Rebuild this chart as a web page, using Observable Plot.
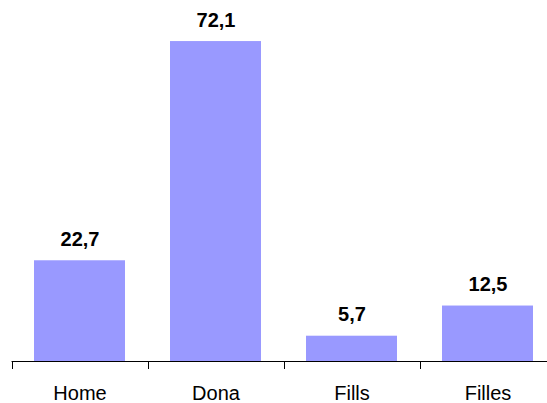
<!DOCTYPE html>
<html>
<head>
<meta charset="utf-8">
<script src="https://cdn.jsdelivr.net/npm/d3@7"></script>
<script src="https://cdn.jsdelivr.net/npm/@observablehq/plot@0.6"></script>
<style>
  html, body { margin: 0; padding: 0; background: #fff; }
  svg { display: block; }
</style>
</head>
<body>
<div id="chart"></div>
<script>
const categories = ["Home", "Dona", "Fills", "Filles"];
const values = [22.7, 72.1, 5.7, 12.5];
const valueLabels = ["22,7", "72,1", "5,7", "12,5"];

const data = categories.map((c, i) => ({cat: c, value: values[i], label: valueLabels[i]}));

const W = 547, H = 403;
const paddingInner = 0.33;

// custom axis: baseline line + category boundary ticks, positioned from the x/y scales
function axisBaseline(index, scales, values, dimensions) {
  const g = d3.create("svg:g");
  const y0 = Math.round(scales.y(0));
  const step = scales.x(categories[1]) - scales.x(categories[0]);
  const half = step * paddingInner / 2;
  g.append("line")
    .attr("x1", scales.x(categories[0]) - half)
    .attr("x2", dimensions.width)
    .attr("y1", y0 + 0.5).attr("y2", y0 + 0.5)
    .attr("stroke", "#000").attr("stroke-width", 1.2);
  for (const c of categories) {
    const xb = Math.round(scales.x(c) - half) + 0.5;
    g.append("line")
      .attr("x1", xb).attr("x2", xb)
      .attr("y1", y0).attr("y2", y0 + 8)
      .attr("stroke", "#000").attr("stroke-width", 1);
  }
  return g.node();
}

const chart = Plot.plot({
  width: W,
  height: H,
  marginLeft: 12,
  marginRight: 0,
  marginTop: 6,
  marginBottom: 42,
  style: {fontFamily: "'Liberation Sans', Arial, sans-serif", background: "#fff"},
  x: {type: "band", domain: categories, range: [12, 556], paddingInner: paddingInner, paddingOuter: 0.162, label: null},
  y: {domain: [0, 80], axis: null},
  marks: [
    Plot.barY(data, {x: "cat", y: "value", fill: "#9999FF"}),
    Plot.text(data, {x: "cat", y: "value", text: "label", dy: -21.4, fontSize: 20, fontWeight: "bold", fill: "#000"}),
    Plot.axisX({tickSize: 0, tickPadding: 23.8, fontSize: 20, fill: "#000", label: null}),
    axisBaseline
  ]
});

document.getElementById("chart").appendChild(chart);
</script>
</body>
</html>
